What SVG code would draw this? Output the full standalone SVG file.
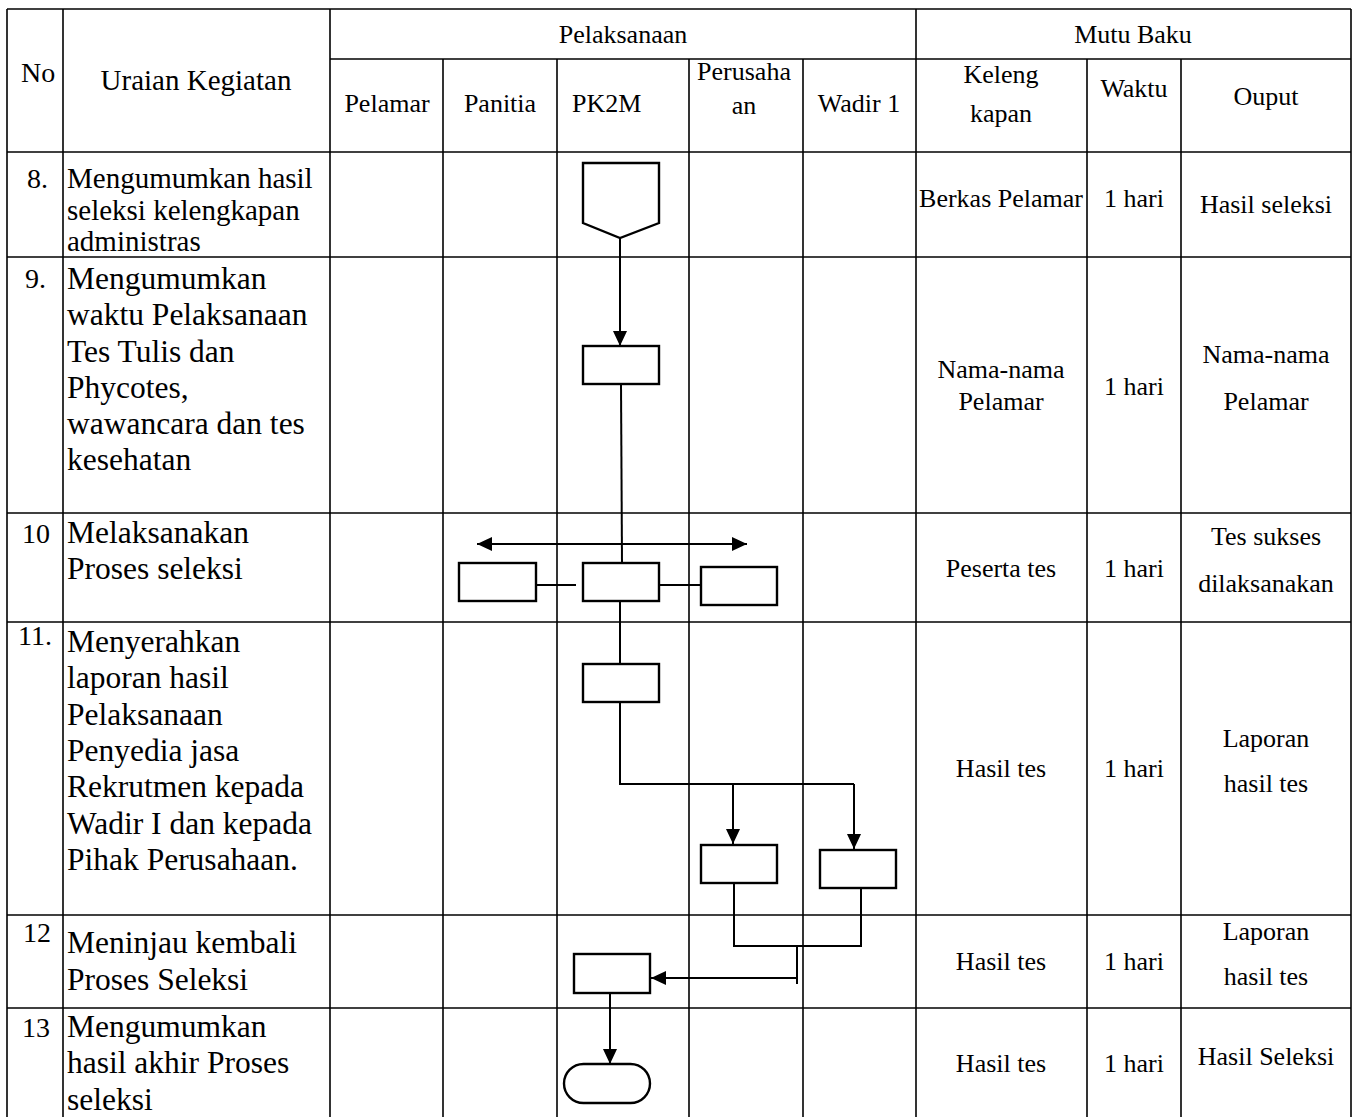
<svg xmlns="http://www.w3.org/2000/svg" width="1356" height="1117" viewBox="0 0 1356 1117">
<style>
.t{font-family:"Liberation Serif","Times New Roman",serif;fill:#000}
.h{font-size:26px}
.u{font-size:31.5px}
.u8{font-size:29px}
.n{font-size:28px}
.c{text-anchor:middle}
.grid line{stroke:#000;stroke-width:1.6}
.shape{fill:#fff;stroke:#000;stroke-width:2.4}
.conn{fill:none;stroke:#000;stroke-width:2}
</style>
<defs>
<marker id="arr" markerUnits="userSpaceOnUse" markerWidth="16" markerHeight="15" refX="15" refY="7" orient="auto-start-reverse" viewBox="0 0 16 15">
<path d="M0,0 L15,7 L0,14 z" fill="#000"/>
</marker>
</defs>
<rect width="1356" height="1117" fill="#fff"/>
<g id="table" class="grid">
<line x1="7" y1="9" x2="1351" y2="9"/>
<line x1="330" y1="59" x2="1351" y2="59"/>
<line x1="7" y1="152" x2="1351" y2="152"/>
<line x1="7" y1="257" x2="1351" y2="257"/>
<line x1="7" y1="513" x2="1351" y2="513"/>
<line x1="7" y1="622" x2="1351" y2="622"/>
<line x1="7" y1="915" x2="1351" y2="915"/>
<line x1="7" y1="1008" x2="1351" y2="1008"/>
<line x1="7" y1="9" x2="7" y2="1117"/>
<line x1="63" y1="9" x2="63" y2="1117"/>
<line x1="330" y1="9" x2="330" y2="1117"/>
<line x1="443" y1="59" x2="443" y2="1117"/>
<line x1="557" y1="59" x2="557" y2="1117"/>
<line x1="689" y1="59" x2="689" y2="1117"/>
<line x1="803" y1="59" x2="803" y2="1117"/>
<line x1="916" y1="9" x2="916" y2="1117"/>
<line x1="1087" y1="59" x2="1087" y2="1117"/>
<line x1="1181" y1="59" x2="1181" y2="1117"/>
<line x1="1351" y1="9" x2="1351" y2="1117"/>
</g>
<g id="headers" class="t">
<text class="n" x="21" y="82">No</text>
<text class="u8 c" x="196" y="90">Uraian Kegiatan</text>
<text class="h c" x="623" y="43">Pelaksanaan</text>
<text class="h c" x="1133" y="43">Mutu Baku</text>
<text class="h c" x="387" y="112">Pelamar</text>
<text class="h c" x="500" y="112">Panitia</text>
<text class="h" x="572" y="112">PK2M</text>
<text class="h c" x="744" y="80">Perusaha</text>
<text class="h c" x="744" y="114">an</text>
<text class="h c" x="859" y="112">Wadir 1</text>
<text class="h c" x="1001" y="83">Keleng</text>
<text class="h c" x="1001" y="122">kapan</text>
<text class="h c" x="1134" y="97">Waktu</text>
<text class="h c" x="1266" y="105">Ouput</text>
</g>
<g id="rows" class="t">
<text class="n" x="27" y="188">8.</text>
<text class="u8" x="67" y="188">Mengumumkan hasil</text>
<text class="u8" x="67" y="220">seleksi kelengkapan</text>
<text class="u8" x="67" y="251">administras</text>
<text class="h c" x="1001" y="207">Berkas Pelamar</text>
<text class="h c" x="1134" y="207">1 hari</text>
<text class="h c" x="1266" y="213">Hasil seleksi</text>

<text class="n" x="25" y="288">9.</text>
<text class="u" x="67" y="289">Mengumumkan</text>
<text class="u" x="67" y="325">waktu Pelaksanaan</text>
<text class="u" x="67" y="362">Tes Tulis dan</text>
<text class="u" x="67" y="398">Phycotes,</text>
<text class="u" x="67" y="434">wawancara dan tes</text>
<text class="u" x="67" y="470">kesehatan</text>
<text class="h c" x="1001" y="378">Nama-nama</text>
<text class="h c" x="1001" y="410">Pelamar</text>
<text class="h c" x="1134" y="395">1 hari</text>
<text class="h c" x="1266" y="363">Nama-nama</text>
<text class="h c" x="1266" y="410">Pelamar</text>

<text class="n" x="22" y="543">10</text>
<text class="u" x="67" y="543">Melaksanakan</text>
<text class="u" x="67" y="579">Proses seleksi</text>
<text class="h c" x="1001" y="577">Peserta tes</text>
<text class="h c" x="1134" y="577">1 hari</text>
<text class="h c" x="1266" y="545">Tes sukses</text>
<text class="h c" x="1266" y="592">dilaksanakan</text>

<text class="n" x="18" y="645">11.</text>
<text class="u" x="67" y="652">Menyerahkan</text>
<text class="u" x="67" y="688">laporan hasil</text>
<text class="u" x="67" y="725">Pelaksanaan</text>
<text class="u" x="67" y="761">Penyedia jasa</text>
<text class="u" x="67" y="797">Rekrutmen kepada</text>
<text class="u" x="67" y="834">Wadir I dan kepada</text>
<text class="u" x="67" y="870">Pihak Perusahaan.</text>
<text class="h c" x="1001" y="777">Hasil tes</text>
<text class="h c" x="1134" y="777">1 hari</text>
<text class="h c" x="1266" y="747">Laporan</text>
<text class="h c" x="1266" y="792">hasil tes</text>

<text class="n" x="23" y="942">12</text>
<text class="u" x="67" y="953">Meninjau kembali</text>
<text class="u" x="67" y="990">Proses Seleksi</text>
<text class="h c" x="1001" y="970">Hasil tes</text>
<text class="h c" x="1134" y="970">1 hari</text>
<text class="h c" x="1266" y="940">Laporan</text>
<text class="h c" x="1266" y="985">hasil tes</text>

<text class="n" x="22" y="1037">13</text>
<text class="u" x="67" y="1037">Mengumumkan</text>
<text class="u" x="67" y="1073">hasil akhir Proses</text>
<text class="u" x="67" y="1110">seleksi</text>
<text class="h c" x="1001" y="1072">Hasil tes</text>
<text class="h c" x="1134" y="1072">1 hari</text>
<text class="h c" x="1266" y="1065">Hasil Seleksi</text>
</g>
<g id="connectors" class="conn">
<line x1="620" y1="238" x2="620" y2="346" marker-end="url(#arr)"/>
<line x1="621" y1="384" x2="622" y2="563"/>
<line x1="477" y1="544" x2="747" y2="544" marker-start="url(#arr)" marker-end="url(#arr)"/>
<line x1="536" y1="585" x2="576" y2="585"/>
<line x1="659" y1="585" x2="701" y2="585"/>
<line x1="620" y1="601" x2="620" y2="664"/>
<polyline points="620,702 620,784 854,784"/>
<line x1="733" y1="784" x2="733" y2="844" marker-end="url(#arr)"/>
<line x1="854" y1="784" x2="854" y2="849" marker-end="url(#arr)"/>
<polyline points="734,883 734,946 861,946 861,888"/>
<line x1="797" y1="946" x2="797" y2="984"/>
<line x1="797" y1="978" x2="651" y2="978" marker-end="url(#arr)"/>
<line x1="610" y1="993" x2="610" y2="1064" marker-end="url(#arr)"/>
</g>
<g id="node-8-offpage"><polygon class="shape" points="583,163 659,163 659,223 620,238 583,223"/></g>
<g id="node-9-pk2m"><rect class="shape" x="583" y="346" width="76" height="38"/></g>
<g id="node-10-panitia"><rect class="shape" x="459" y="563" width="77" height="38"/></g>
<g id="node-10-pk2m"><rect class="shape" x="583" y="563" width="76" height="38"/></g>
<g id="node-10-perusahaan"><rect class="shape" x="701" y="567" width="76" height="38"/></g>
<g id="node-11-pk2m"><rect class="shape" x="583" y="664" width="76" height="38"/></g>
<g id="node-11-perusahaan"><rect class="shape" x="701" y="845" width="76" height="38"/></g>
<g id="node-11-wadir"><rect class="shape" x="820" y="850" width="76" height="38"/></g>
<g id="node-12-pk2m"><rect class="shape" x="574" y="954" width="76" height="39"/></g>
<g id="node-13-end"><rect class="shape" x="564" y="1064" width="86" height="39" rx="19.5" ry="19.5"/></g>
</svg>
